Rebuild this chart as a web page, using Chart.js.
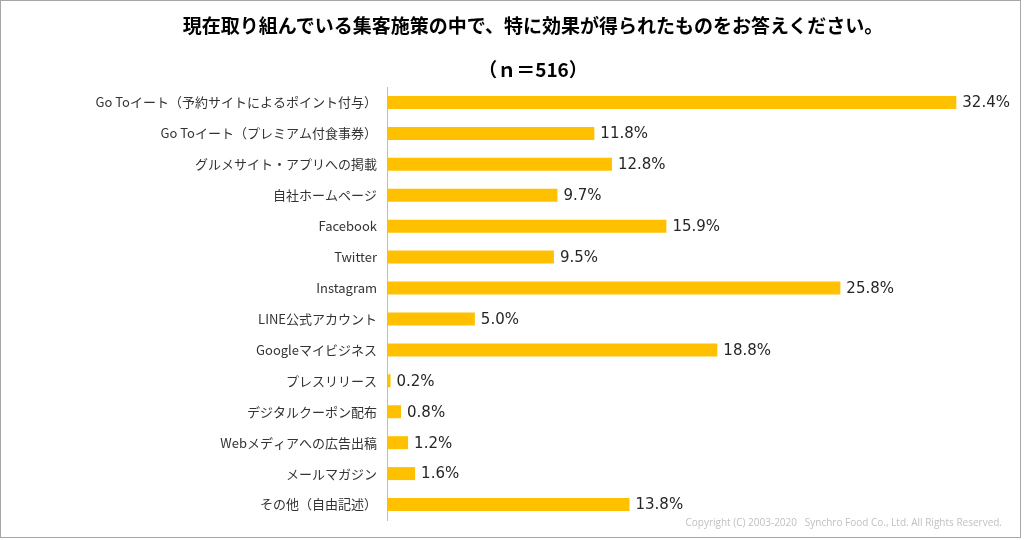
<!DOCTYPE html>
<html><head><meta charset="utf-8">
<script src="https://cdn.jsdelivr.net/npm/chart.js@4"></script>
<style>
html,body{margin:0;padding:0;background:#fff;}
#wrap{position:relative;width:1024px;height:540px;}
#frame{position:absolute;left:0;top:0;width:1019px;height:536px;border:1px solid #a6a6a6;pointer-events:none;}
.t{position:absolute;left:0;width:1066px;text-align:center;font-family:"Noto Sans CJK JP";font-weight:bold;color:#000;font-size:19px;}
#copy{position:absolute;right:22px;top:515px;font-family:"Open Sans";font-size:10px;color:#c0c0c0;}
canvas{position:absolute;left:0;top:0;}
</style></head>
<body><div id="wrap">
<canvas id="c" width="1024" height="540"></canvas>
<div class="t" style="top:11px;">現在取り組んでいる集客施策の中で、特に効果が得られたものをお答えください。</div>
<div class="t" style="top:55px;">（ｎ＝516）</div>
<div id="copy">Copyright (C) 2003-2020 &nbsp; Synchro Food Co., Ltd. All Rights Reserved.</div>
<div id="frame"></div>
</div>
<script>
const categories = ["Go Toイート（予約サイトによるポイント付与）","Go Toイート（プレミアム付食事券）","グルメサイト・アプリへの掲載","自社ホームページ","Facebook","Twitter","Instagram","LINE公式アカウント","Googleマイビジネス","プレスリリース","デジタルクーポン配布","Webメディアへの広告出稿","メールマガジン","その他（自由記述）"];
const values = [32.4,11.8,12.8,9.7,15.9,9.5,25.8,5.0,18.8,0.2,0.8,1.2,1.6,13.8];

const labelPlugin = {
  id:'vals',
  afterDatasetsDraw(chart){
    const ctx = chart.ctx;
    const meta = chart.getDatasetMeta(0);
    ctx.save();
    ctx.font = '15px "DejaVu Sans"';
    ctx.fillStyle = '#262626';
    ctx.textBaseline = 'middle';
    ctx.textAlign = 'left';
    meta.data.forEach((bar,i)=>{
      ctx.fillText(values[i].toFixed(1)+'%', bar.x+6, bar.y+1);
    });
    ctx.restore();
  }
};

new Chart(document.getElementById('c'),{
  type:'bar',
  data:{labels:categories,datasets:[{data:values,backgroundColor:'#FFC000',barPercentage:0.84,categoryPercentage:0.5}]},
  options:{
    indexAxis:'y',responsive:false,animation:false,
    layout:{padding:{left:10,right:22,top:87,bottom:20}},
    plugins:{legend:{display:false},tooltip:{enabled:false}},
    scales:{
      x:{min:0,max:35,display:false},
      y:{
        grid:{display:false,drawTicks:false},
        border:{display:true,color:'#bfbfbf',width:1},
        ticks:{color:'#333',font:{family:'"Noto Sans CJK JP"',size:13},padding:10},
        afterFit(scale){scale.width = 377;}
      }
    }
  },
  plugins:[labelPlugin]
});
</script>
</body></html>
